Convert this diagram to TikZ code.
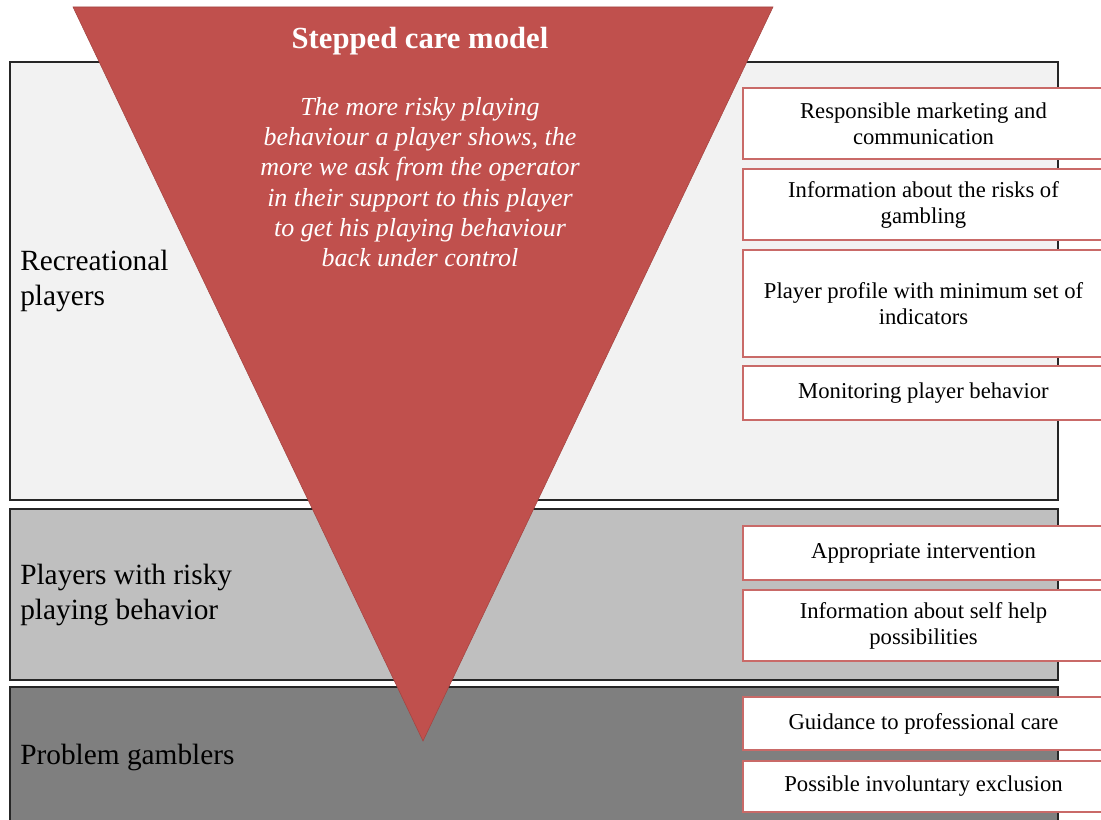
\documentclass[tikz,border=0pt]{standalone}
\usepackage{fontspec}
\setmainfont{Liberation Serif}
\definecolor{funnelred}{HTML}{C0504D}
\definecolor{bandlight}{HTML}{F2F2F2}
\definecolor{bandmid}{HTML}{BFBFBF}
\definecolor{banddark}{HTML}{7F7F7F}
\tikzset {
    band/.style = {draw = black!85, line width = 1.2pt},
    band label/.style = {
        anchor = west, align = left, inner sep = 0pt,
        font = \fontsize{22}{26}\selectfont
    },
    funnel/.style = {fill = funnelred, draw = funnelred!85!black, line width = 0.4pt},
    funnel title/.style = {
        text = white, inner sep = 0pt,
        font = \fontsize{23}{26}\selectfont\bfseries
    },
    funnel text/.style = {
        text = white, align = center, inner sep = 0pt,
        font = \fontsize{19.5}{22.7}\selectfont\itshape
    },
    measure/.style = {
        draw = funnelred!85, line width = 1pt, fill = white,
        minimum width = 270.75pt, inner sep = 0pt, align = center,
        font = \fontsize{17}{19.5}\selectfont
    },
    %
    h/.style = {minimum height = #1*0.75pt}
}

\begin{document}
\begin{tikzpicture}[x = 0.75pt, y = -0.75pt]
    \useasboundingbox (0, 0) rectangle (1101, 820);
    \clip (0, 0) rectangle (1101, 820);
    % the three groups of players
    \draw [band, fill = bandlight] (10, 62) rectangle (1058, 500);
    \draw [band, fill = bandmid] (10, 509) rectangle (1058, 680);
    \draw [band, fill = banddark] (10, 687) rectangle (1058, 840);
    \node (rec) [band label] at (20, 281) {Recreational\\players};
    \node (risky) [band label] at (20, 595) {Players with risky\\playing behavior};
    \node (prob) [band label] at (20, 757) {Problem gamblers};
    % funnel
    \draw [funnel] (73, 7) -- (773, 7) -- (423, 741) -- cycle;
    \node (title) [funnel title] at (420, 41) {Stepped care model};
    \node (idea) [funnel text] at (420, 182) {The more risky playing\\
        behaviour a player shows, the\\
        more we ask from the operator\\
        in their support to this player\\
        to get his playing behaviour\\
        back under control};
    % measures per group
    \node (m1) [measure, h = 71] at (923.5, 123.5) {Responsible marketing  and\\communication};
    \node (m2) [measure, h = 71] at (923.5, 204.5) {Information about the risks of\\gambling};
    \node (m3) [measure, h = 107] at (923.5, 303.5) {Player profile with minimum  set of\\indicators};
    \node (m4) [measure, h = 54] at (923.5, 393) {Monitoring player behavior};
    \node (m5) [measure, h = 54] at (923.5, 553) {Appropriate intervention};
    \node (m6) [measure, h = 71] at (923.5, 625.5) {Information about self help\\possibilities};
    \node (m7) [measure, h = 53] at (923.5, 723.5) {Guidance to professional care};
    \node (m8) [measure, h = 51] at (923.5, 786.5) {Possible involuntary exclusion};
\end{tikzpicture}
\end{document}
